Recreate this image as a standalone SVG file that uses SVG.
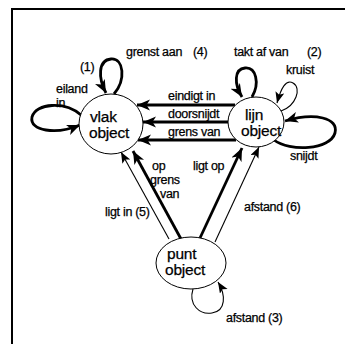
<svg xmlns="http://www.w3.org/2000/svg" width="347" height="344" viewBox="0 0 347 344">
<style>
text{font-family:"Liberation Sans",Arial,sans-serif;font-size:12.5px;fill:#000;stroke:#000;stroke-width:0.25;letter-spacing:-0.3px}
.big{font-size:15.5px;letter-spacing:-0.2px}
.node{fill:#fff;stroke:#000;stroke-width:1}
.thick{fill:none;stroke:#000;stroke-width:2.8}
.thin{fill:none;stroke:#000;stroke-width:1.1}
</style>
<defs>
<marker id="ah" markerUnits="userSpaceOnUse" markerWidth="14" markerHeight="12" refX="13" refY="5.5" orient="auto">
<path d="M0,0 L13,5.5 L0,11 L3.5,5.5 z" fill="#000"/>
</marker>
<marker id="ahs" markerUnits="userSpaceOnUse" markerWidth="12" markerHeight="10" refX="11" refY="4.5" orient="auto">
<path d="M0,0 L11,4.5 L0,9 L2.5,4.5 z" fill="#000"/>
</marker>
</defs>
<rect width="347" height="344" fill="#fff"/>
<path d="M12,344 V9 H345" fill="none" stroke="#000" stroke-width="2"/>
<g id="connectors">
<path class="thick" d="M235,105 H137" marker-end="url(#ah)"/>
<path class="thick" d="M228,122 H143" marker-end="url(#ah)"/>
<path class="thick" d="M236,140 H138" marker-end="url(#ah)"/>
<path class="thick" d="M114,94 C126,80 124,58 111,59 C98,60 98,78 106,93" marker-end="url(#ah)"/>
<path class="thick" d="M81,115 C65,101 36,103 32,117 C29,131 56,135 80,125" marker-end="url(#ah)"/>
<path class="thick" d="M252,97 C260,83 256,67 245,68 C234,69 234,84 242,97" marker-end="url(#ah)"/>
<path class="thin" d="M281,111 C296,106 302,88 293,83 C286,79 281,88 277,103" marker-end="url(#ahs)"/>
<path class="thick" d="M274,140 C290,152 330,150 335,133 C339,118 315,112 285,121" marker-end="url(#ah)"/>
<path class="thin" d="M169,239 L121,152" marker-end="url(#ahs)"/>
<path class="thick" d="M181,239 L133,151" marker-end="url(#ah)"/>
<path class="thick" d="M200,238 L242,148" marker-end="url(#ah)"/>
<path class="thin" d="M215,242 L259,147" marker-end="url(#ahs)"/>
<path class="thin" d="M193,289 C188,305 200,315 212,313 C226,311 226,295 218,282" marker-end="url(#ahs)"/>
<text x="126" y="56">grenst aan</text><text x="193" y="56">(4)</text>
<text x="80" y="71">(1)</text>
<text x="56" y="93">eiland</text><text x="56" y="107">in</text>
<text x="234" y="56">takt af van</text><text x="307" y="56">(2)</text>
<text x="286" y="74">kruist</text>
<text x="168" y="100">eindigt in</text>
<text x="168" y="118">doorsnijdt</text>
<text x="168" y="136">grens van</text>
<text x="290" y="160">snijdt</text>
<text x="152" y="170">op</text><text x="150" y="184">grens</text><text x="160" y="198">van</text>
<text x="193" y="170">ligt op</text>
<text x="105" y="216">ligt in (5)</text>
<text x="244" y="211">afstand (6)</text>
<text x="226" y="322">afstand (3)</text>
</g>
<g id="vlak">
<ellipse class="node" cx="111" cy="124" rx="32" ry="30"/>
<text class="big" x="90" y="122">vlak</text>
<text class="big" x="89" y="138">object</text>
</g>
<g id="lijn">
<ellipse class="node" cx="256" cy="122" rx="28" ry="25"/>
<text class="big" x="245" y="120">lijn</text>
<text class="big" x="241" y="136">object</text>
</g>
<g id="punt">
<ellipse class="node" cx="191" cy="263" rx="35" ry="26"/>
<text class="big" x="167" y="259">punt</text>
<text class="big" x="165" y="275">object</text>
</g>
</svg>
